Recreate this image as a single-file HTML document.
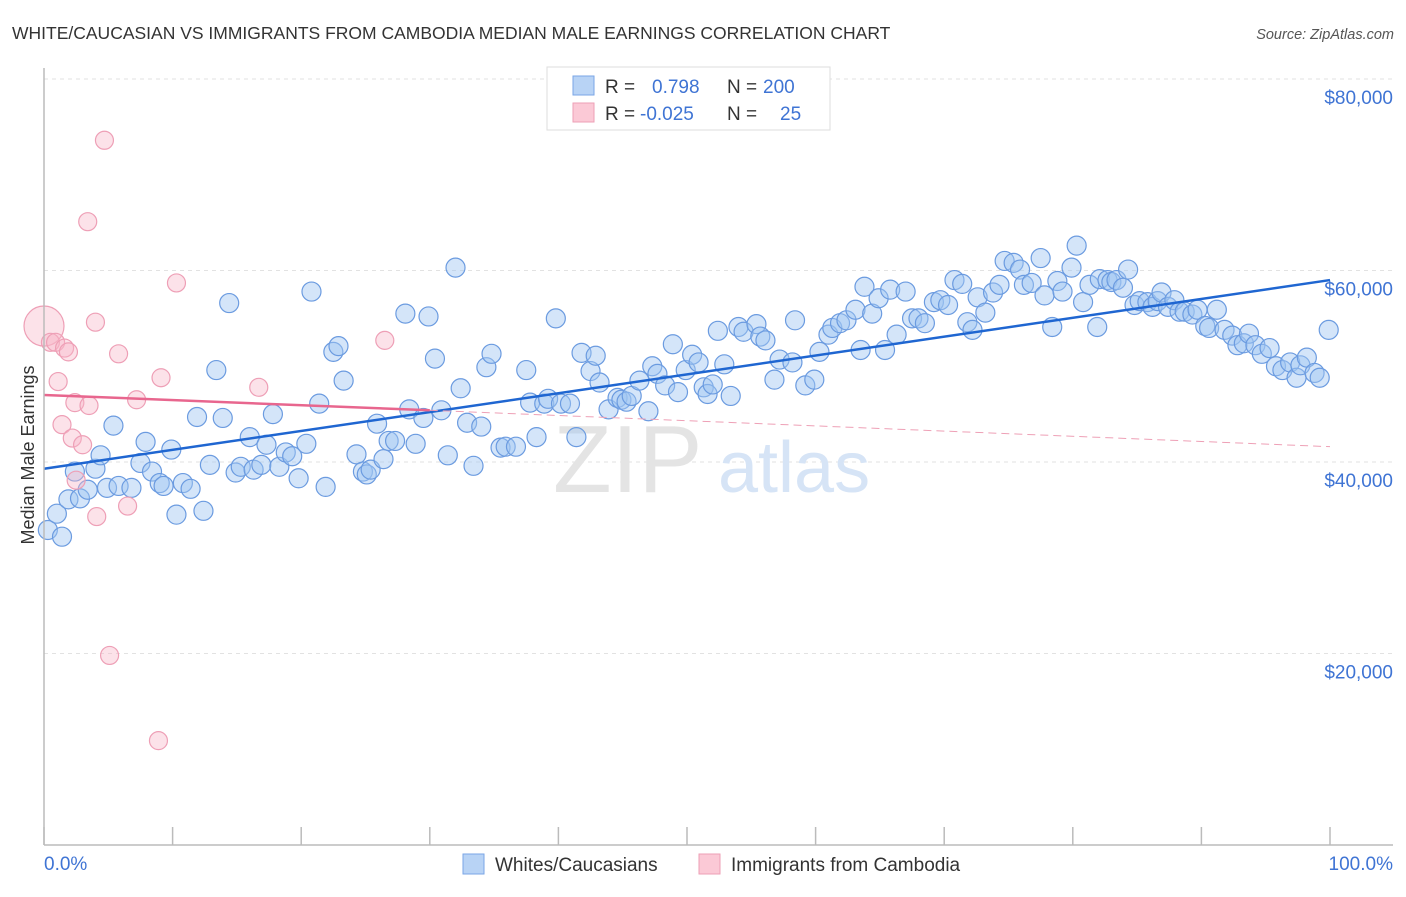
<!DOCTYPE html>
<html><head><meta charset="utf-8"><style>
body{margin:0;background:#fff;font-family:"Liberation Sans",sans-serif;}
svg text{font-family:"Liberation Sans",sans-serif;}
</style></head><body>
<svg id="chart" width="1406" height="892" xmlns="http://www.w3.org/2000/svg">
<text x="12" y="39" font-size="17.5" fill="#333">WHITE/CAUCASIAN VS IMMIGRANTS FROM CAMBODIA MEDIAN MALE EARNINGS CORRELATION CHART</text>
<text x="1394" y="39" font-size="14.5" font-style="italic" fill="#555" text-anchor="end">Source: ZipAtlas.com</text>
<g id="grid"></g>
<g>
<text x="553" y="492" font-size="96" font-family="Liberation Serif,serif" fill="#e4e4e4">ZIP</text>
<text x="718" y="492" font-size="72" fill="#d6e4f6">atlas</text>
</g>
<text transform="translate(34,455) rotate(-90)" font-size="18" fill="#333" text-anchor="middle">Median Male Earnings</text>
<g id="points"></g>
<g id="trends"></g>
<g id="axes"></g>
<g>
<rect x="547" y="67" width="283" height="63" fill="#fff" stroke="#ddd"/>
<rect x="573" y="76" width="21" height="19" fill="#b8d3f5" stroke="#7aa6e6"/>
<rect x="573" y="103" width="21" height="19" fill="#fbc9d6" stroke="#ee9fb6"/>
<text x="605" y="93" font-size="19" fill="#333">R =</text>
<text x="652" y="93" font-size="19" fill="#3f74d4">0.798</text>
<text x="727" y="93" font-size="19" fill="#333">N =</text>
<text x="763" y="93" font-size="19" fill="#3f74d4">200</text>
<text x="605" y="120" font-size="19" fill="#333">R =</text>
<text x="640" y="120" font-size="19" fill="#3f74d4">-0.025</text>
<text x="727" y="120" font-size="19" fill="#333">N =</text>
<text x="780" y="120" font-size="19" fill="#3f74d4">25</text>
</g>
<g>
<rect x="463" y="854" width="21" height="20" fill="#b8d3f5" stroke="#7aa6e6"/>
<text x="495" y="871" font-size="19" fill="#333">Whites/Caucasians</text>
<rect x="699" y="854" width="21" height="20" fill="#fbc9d6" stroke="#ee9fb6"/>
<text x="731" y="871" font-size="19" fill="#333">Immigrants from Cambodia</text>
</g>
</svg>
<script>
const blueX=[0.3,1.0,1.4,1.9,2.4,2.8,3.4,4.0,4.4,4.9,5.4,5.8,6.8,7.5,7.9,8.4,9.0,9.3,9.9,10.3,10.8,11.4,11.9,12.4,12.9,13.4,13.9,14.4,14.9,15.3,16.0,16.3,16.9,17.3,17.8,18.3,18.8,19.3,19.8,20.4,20.8,21.4,21.9,22.5,22.9,23.3,24.3,24.8,25.1,25.4,25.9,26.4,26.8,27.3,28.1,28.4,28.9,29.5,29.9,30.4,30.9,31.4,32.0,32.4,32.9,33.4,34.0,34.4,34.8,35.5,35.9,36.7,37.5,37.8,38.3,38.9,39.2,39.8,40.2,40.9,41.4,41.8,42.5,42.9,43.2,43.9,44.6,44.9,45.3,45.7,46.3,47.0,47.3,47.7,48.3,48.9,49.3,49.9,50.4,50.9,51.3,51.6,52.0,52.4,52.9,53.4,54.0,54.4,55.4,55.7,56.1,56.8,57.2,58.2,58.4,59.2,59.9,60.3,61.0,61.3,61.9,62.4,63.1,63.5,63.8,64.4,64.9,65.4,65.8,66.3,67.0,67.5,68.0,68.5,69.2,69.7,70.3,70.8,71.4,71.8,72.2,72.6,73.2,73.8,74.3,74.7,75.4,75.9,76.2,76.8,77.5,77.8,78.4,78.8,79.2,79.9,80.3,80.8,81.3,81.9,82.1,82.7,83.0,83.4,83.9,84.3,84.8,85.2,85.8,86.2,86.6,86.9,87.4,87.9,88.3,88.7,89.3,89.7,90.3,90.6,91.2,91.8,92.4,92.8,93.3,93.7,94.2,94.7,95.3,95.8,96.3,96.9,97.4,97.7,98.2,98.8,99.2,99.9];
const blueY=[32.9,34.6,32.2,36.1,39.0,36.2,37.1,39.3,40.7,37.3,43.8,37.5,37.3,39.9,42.1,39.0,37.8,37.5,41.3,34.5,37.8,37.2,44.7,34.9,39.7,49.6,44.6,56.6,38.9,39.5,42.6,39.2,39.7,41.8,45.0,39.5,41.0,40.6,38.3,41.9,57.8,46.1,37.4,51.5,52.1,48.5,40.8,39.0,38.7,39.2,44.0,40.3,42.2,42.2,55.5,45.5,41.9,44.6,55.2,50.8,45.4,40.7,60.3,47.7,44.1,39.6,43.7,49.9,51.3,41.5,41.6,41.6,49.6,46.2,42.6,46.1,46.6,55.0,46.1,46.1,42.6,51.4,49.5,51.1,48.3,45.5,46.7,46.5,46.3,46.9,48.5,45.3,50.0,49.2,48.0,52.3,47.3,49.6,51.2,50.4,47.8,47.1,48.1,53.7,50.2,46.9,54.1,53.6,54.4,53.1,52.7,48.6,50.7,50.4,54.8,48.0,48.6,51.5,53.3,54.0,54.5,54.8,55.9,51.7,58.3,55.5,57.1,51.7,58.0,53.3,57.8,55.0,55.0,54.5,56.7,56.9,56.4,59.0,58.6,54.6,53.8,57.2,55.6,57.7,58.5,61.0,60.8,60.1,58.5,58.7,61.3,57.4,54.1,58.9,57.8,60.3,62.6,56.7,58.5,54.1,59.1,59.0,58.8,59.0,58.2,60.1,56.4,56.8,56.7,56.2,56.8,57.7,56.2,56.9,55.7,55.7,55.4,55.9,54.2,54.0,55.9,53.8,53.2,52.2,52.4,53.4,52.2,51.3,51.9,50.0,49.6,50.4,48.8,50.1,50.9,49.3,48.8,53.8];
const pinkX=[0.0,0.5,0.9,1.6,1.9,1.1,1.4,2.4,3.5,2.2,3.0,2.5,4.1,6.5,4.0,3.4,4.7,5.8,7.2,9.1,10.3,16.7,26.5,5.1,8.9];
const pinkY=[54.2,52.5,52.5,51.9,51.5,48.4,43.9,46.2,45.9,42.5,41.8,38.1,34.3,35.4,54.6,65.1,73.6,51.3,46.5,48.8,58.7,47.8,52.7,19.8,10.9];
const pinkR=[20,9,9,9,9,9,9,9,9,9,9,9,9,9,9,9,9,9,9,9,9,9,9,9,9];
const blueTrendX=[0,100];
const blueTrendY=[39.3,59.0];
const pinkTrendX=[0,30,100];
const pinkTrendY=[47.0,45.4,41.6];
const yTicks=[20,40,60,80];
const yTickLabels=["$20,000","$40,000","$60,000","$80,000"];
const xTicks=[0,10,20,30,40,50,60,70,80,90,100];

const NS="http://www.w3.org/2000/svg";
const X0=44,X1=1330,Y0=845,PER=191.5/20;
function sx(v){return X0+(X1-X0)*v/100;}
function sy(v){return Y0-v*PER;}
function mk(tag,attrs,parent){const e=document.createElementNS(NS,tag);for(const k in attrs)e.setAttribute(k,attrs[k]);parent.appendChild(e);return e;}

const grid=document.getElementById('grid');
yTicks.forEach((t,i)=>{
  const l=mk('line',{x1:X0,x2:1393,y1:sy(t),y2:sy(t),stroke:'#e2e2e2','stroke-dasharray':'4,4'},grid);
  
  
  const tx=mk('text',{x:1393,y:sy(t)+25,'font-size':19,fill:'#3f74d4','text-anchor':'end'},grid);
  tx.textContent=yTickLabels[i];
  
  
});
const gl=mk('line',{x1:X0,x2:1393,y1:sy(80)-0,y2:sy(80),stroke:'#e2e2e2','stroke-dasharray':'4,4'},grid);

const pts=document.getElementById('points');
blueX.forEach((x,i)=>{
  const c=mk('circle',{cx:sx(x),cy:sy(blueY[i]),r:9.5,fill:'rgba(160,198,242,0.45)',stroke:'#6b9be0','stroke-width':1.2},pts);
  
  
});
pinkX.forEach((x,i)=>{
  const c=mk('circle',{cx:sx(x),cy:sy(pinkY[i]),r:pinkR[i],fill:'rgba(248,182,200,0.4)',stroke:'#ee9fb6','stroke-width':1.2},pts);
  
  
});

const tr=document.getElementById('trends');
const bl=mk('line',{x1:sx(blueTrendX[0]),y1:sy(blueTrendY[0]),x2:sx(blueTrendX[1]),y2:sy(blueTrendY[1]),stroke:'#1f66d1','stroke-width':2.5},tr);


const ps=mk('line',{x1:sx(pinkTrendX[0]),y1:sy(pinkTrendY[0]),x2:sx(pinkTrendX[1]),y2:sy(pinkTrendY[1]),stroke:'#e8668e','stroke-width':2.5},tr);


const pd=mk('line',{x1:sx(pinkTrendX[1]),y1:sy(pinkTrendY[1]),x2:sx(pinkTrendX[2]),y2:sy(pinkTrendY[2]),stroke:'#eea0b6','stroke-width':1,'stroke-dasharray':'8,5'},tr);



const ax=document.getElementById('axes');
const ya=mk('line',{x1:X0,x2:X0,y1:68,y2:Y0,stroke:'#bbb','stroke-width':1.5},ax);


const xa=mk('line',{x1:X0,x2:1393,y1:Y0,y2:Y0,stroke:'#bbb','stroke-width':1.5},ax);


xTicks.forEach(t=>{
  const l=mk('line',{x1:sx(t),x2:sx(t),y1:827,y2:Y0,stroke:'#bbb','stroke-width':1.5},ax);
  
  
});
const xl0=mk('text',{x:44,y:870,'font-size':19,fill:'#3f74d4'},ax);
xl0.textContent='0.0%';


const xl1=mk('text',{x:1393,y:870,'font-size':19,fill:'#3f74d4','text-anchor':'end'},ax);
xl1.textContent='100.0%';


</script>
</body></html>
